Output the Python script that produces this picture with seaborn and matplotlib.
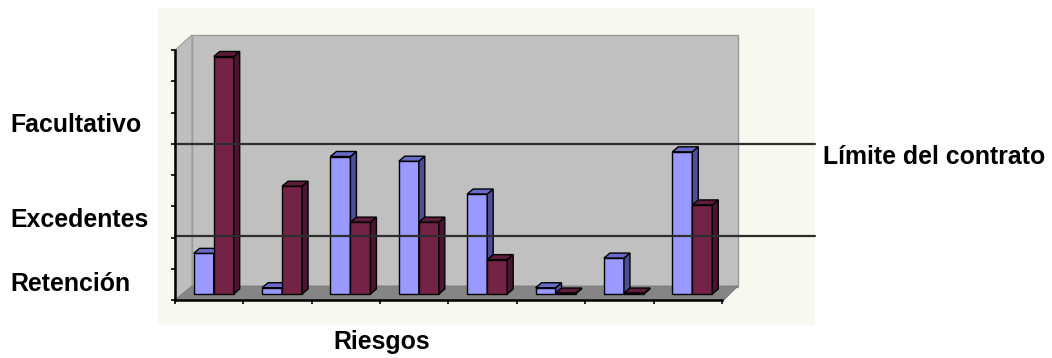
import numpy as np
import pandas as pd
import matplotlib
matplotlib.use("Agg")
import matplotlib.pyplot as plt
import seaborn as sns
from matplotlib.patches import Polygon
from matplotlib.transforms import IdentityTransform, ScaledTranslation

# ---- data -----------------------------------------------------------------
riesgos = ["R1", "R2", "R3", "R4", "R5", "R6", "R7", "R8"]
serie_1 = [1.3, 0.2, 4.4, 4.25, 3.2, 0.2, 1.15, 4.55]
serie_2 = [7.6, 3.45, 2.3, 2.3, 1.1, 0.03, 0.03, 2.85]
series = ["Serie 1", "Serie 2"]
limites = [5.0, 2.05]          # límite del contrato / límite de retención
etiquetas_tramos = ["Facultativo", "Excedentes", "Retención"]
etiqueta_limite = "Límite del contrato"
etiqueta_x = "Riesgos"

# ---- styling --------------------------------------------------------------
W, H, DPI = 1052, 358, 100
colores_frente = ["#9999FF", "#732346"]
colores_lado = ["#4E4E96", "#4A1530"]
colores_techo = ["#6A6AC8", "#5E1B3A"]
FONT = ["Liberation Sans", "DejaVu Sans"]

sns.set_theme(style="white")
plt.rcParams["font.family"] = FONT

fig = plt.figure(figsize=(W / DPI, H / DPI), dpi=DPI)
fig.patch.set_facecolor("white")


def px(x, y):
    """Pixel position measured from the top-left corner -> display coords."""
    return (x, H - y)


def fig_poly(pts, **kw):
    poly = Polygon([px(x, y) for x, y in pts], closed=True,
                   transform=IdentityTransform(), **kw)
    fig.add_artist(poly)
    return poly


# chart area, back wall, side wall and floor of the 3-D box
fig_poly([(158, 8), (815, 8), (815, 325), (158, 325)],
         facecolor="#F7F9F0", edgecolor="none", zorder=-5)
fig_poly([(175, 50), (192, 35), (192, 287), (175, 300)],
         facecolor="#BEBEBE", edgecolor="#9C9C9C", lw=0.8, zorder=-4)
fig_poly([(192, 35), (738, 35), (738, 287), (192, 287)],
         facecolor="#C0C0C0", edgecolor="#9C9C9C", lw=1.0, zorder=-4)
fig_poly([(175, 300), (192, 286), (738, 286), (724, 300)],
         facecolor="#858585", edgecolor="#777777", lw=0.6, zorder=-3)

# ---- axes + bars ----------------------------------------------------------
ax = fig.add_axes([175 / W, 1 - 300 / H, 547 / W, 250 / H])
ax.patch.set_visible(False)

df = pd.DataFrame({
    "riesgo": riesgos * 2,
    "serie": [series[0]] * len(riesgos) + [series[1]] * len(riesgos),
    "valor": serie_1 + serie_2,
})
sns.barplot(data=df, x="riesgo", y="valor", hue="serie", order=riesgos,
            hue_order=series, palette=colores_frente, width=0.585,
            dodge=True, legend=False, ax=ax, saturation=1, errorbar=None)

ax.set_xlim(-0.5, len(riesgos) - 0.5)
ax.set_ylim(0, 8)

# front faces sit slightly inside the box; add side and top faces
desplaz = ScaledTranslation(4.5 / DPI, 6 / DPI, fig.dpi_scale_trans)
prof_x, prof_y = 6, 5
for k, cont in enumerate(ax.containers):
    for bar in cont:
        bar.set_transform(ax.transData + desplaz)
        bar.set_edgecolor("black")
        bar.set_linewidth(1.0)
        bar.set_zorder(2 + k)
        bar.set_clip_on(False)
        bb = bar.get_window_extent()
        x0, y0, x1, y1 = bb.x0, bb.y0, bb.x1, bb.y1
        lado = Polygon([(x1, y0), (x1 + prof_x, y0 + prof_y),
                        (x1 + prof_x, y1 + prof_y), (x1, y1)], closed=True,
                       transform=IdentityTransform(), facecolor=colores_lado[k],
                       edgecolor="black", lw=1.0, zorder=2 + k, clip_on=False)
        techo = Polygon([(x0, y1), (x0 + prof_x, y1 + prof_y),
                         (x1 + prof_x, y1 + prof_y), (x1, y1)], closed=True,
                        transform=IdentityTransform(), facecolor=colores_techo[k],
                        edgecolor="black", lw=1.0, zorder=2 + k, clip_on=False)
        ax.add_patch(lado)
        ax.add_patch(techo)

# contract limit lines, running out to the right-hand label
for lim in limites:
    ax.axhline(lim, xmin=0, xmax=(815 - 175) / 547, color="#2E2E2E",
               lw=1.6, zorder=6, clip_on=False)

# ---- axes decoration --------------------------------------------------------
ax.set_xticks(np.arange(-0.5, len(riesgos), 1.0))
ax.set_xticklabels([])
ax.set_yticks(np.arange(0, 9, 1))
ax.set_yticklabels([])
ax.set_xlabel("")
ax.set_ylabel("")
ax.tick_params(axis="both", direction="out", length=3, width=1.2,
               color="black", left=True, bottom=True)
for side in ["top", "right"]:
    ax.spines[side].set_visible(False)
for side in ["left", "bottom"]:
    ax.spines[side].set_color("black")
    ax.spines[side].set_linewidth(1.8)
    ax.spines[side].set_zorder(7)

# ---- texts ------------------------------------------------------------------
txt = dict(fontsize=17.9, fontweight="bold", color="black", family=FONT)
fig.text(10 / W, 1 - 125 / H, etiquetas_tramos[0], ha="left", va="center", **txt)
fig.text(10 / W, 1 - 220 / H, etiquetas_tramos[1], ha="left", va="center", **txt)
fig.text(10 / W, 1 - 284 / H, etiquetas_tramos[2], ha="left", va="center", **txt)
fig.text(823 / W, 1 - 157 / H, etiqueta_limite, ha="left", va="center", **txt)
fig.text(382 / W, 1 - 342 / H, etiqueta_x, ha="center", va="center", **txt)

fig.savefig("out.png", dpi=DPI)
